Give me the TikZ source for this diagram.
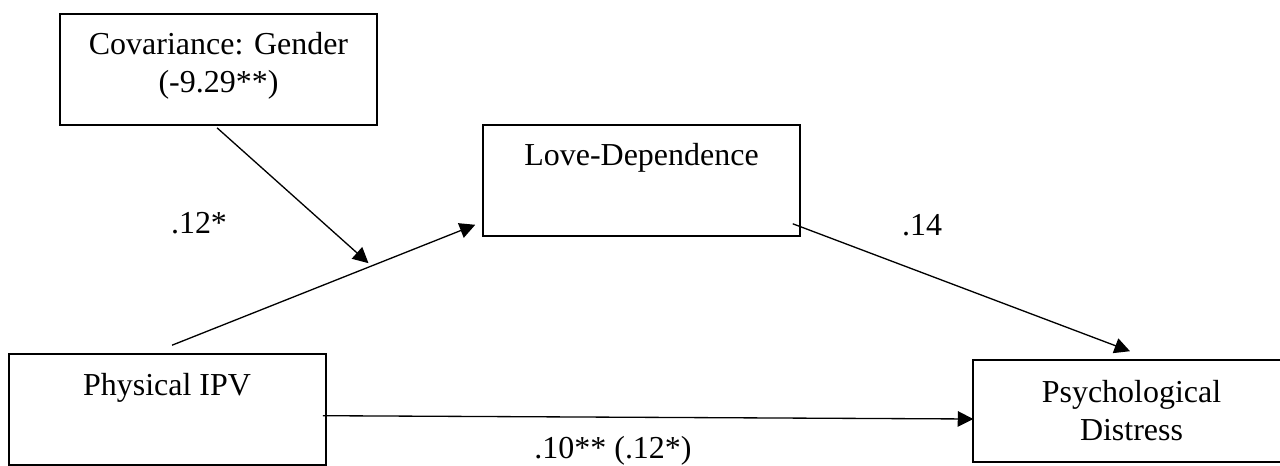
\documentclass[tikz,border=0pt]{standalone}
\usepackage{fontspec}
\setmainfont{Liberation Serif}
\usetikzlibrary{arrows.meta,calc}
\begin{document}
\begin{tikzpicture}[x=0.02cm,y=-0.02cm,
  box/.style={draw,line width=0.9pt,minimum width=6.34cm,minimum height=2.22cm,inner sep=0pt},
  txt/.style={anchor=base,inner sep=0pt,font=\fontsize{18.2}{21.8}\selectfont},
  arr/.style={line width=0.75pt,-{Triangle[length=0.31cm,width=0.31cm]}}]
\useasboundingbox (0,0) rectangle (1280,466);
\clip (0,0) rectangle (1280,466);
% boxes
\node[box] (cov) at (218.5,69.5) {};
\node[box] (ld) at (641.5,180.5) {};
\node[box] (ipv) at (167.5,409.5) {};
\node[box,minimum height=2.04cm] (psy) at (1131.5,411) {};
% box texts
\node[txt] (covt1) at (218.5,55) {Covariance: Gender};
\node[txt] (covt2) at (218.5,92) {(-9.29**)};
\node[txt] (ldt) at (641.5,165) {Love-Dependence};
\node[txt] (ipvt) at (167,395) {Physical IPV};
\node[txt] (psyt1) at (1131.5,402) {Psychological};
\node[txt] (psyt2) at (1131.5,440) {Distress};
% path labels
\node[txt] (l1) at (199,233) {.12*};
\node[txt] (l2) at (922,235) {.14};
\node[txt] (l3) at (613,458) {.10** (.12*)};
% connectors
\coordinate (a1) at ($(ipv.north)+(4.5,-8)$);
\coordinate (a2) at ($(ld.south west)+(-7,-12)$);
\draw[arr] (a1) -- (a2);
\coordinate (c1) at ($(cov.south)+(-1.5,2)$);
\path ($(a1)!0.648!(a2)$) ++(0,-4) coordinate (c2);
\draw[arr] (c1) -- (c2);
\coordinate (d1) at ($(ld.south east)+(-8,-13)$);
\coordinate (d2) at ($(psy.north)+(-1.5,-8)$);
\draw[arr] (d1) -- (d2);
\coordinate (e1) at ($(ipv.east)+(-4,6.2)$);
\coordinate (e2) at ($(psy.west)+(1,8)$);
\draw[arr] (e1) -- (e2);
\end{tikzpicture}
\end{document}
